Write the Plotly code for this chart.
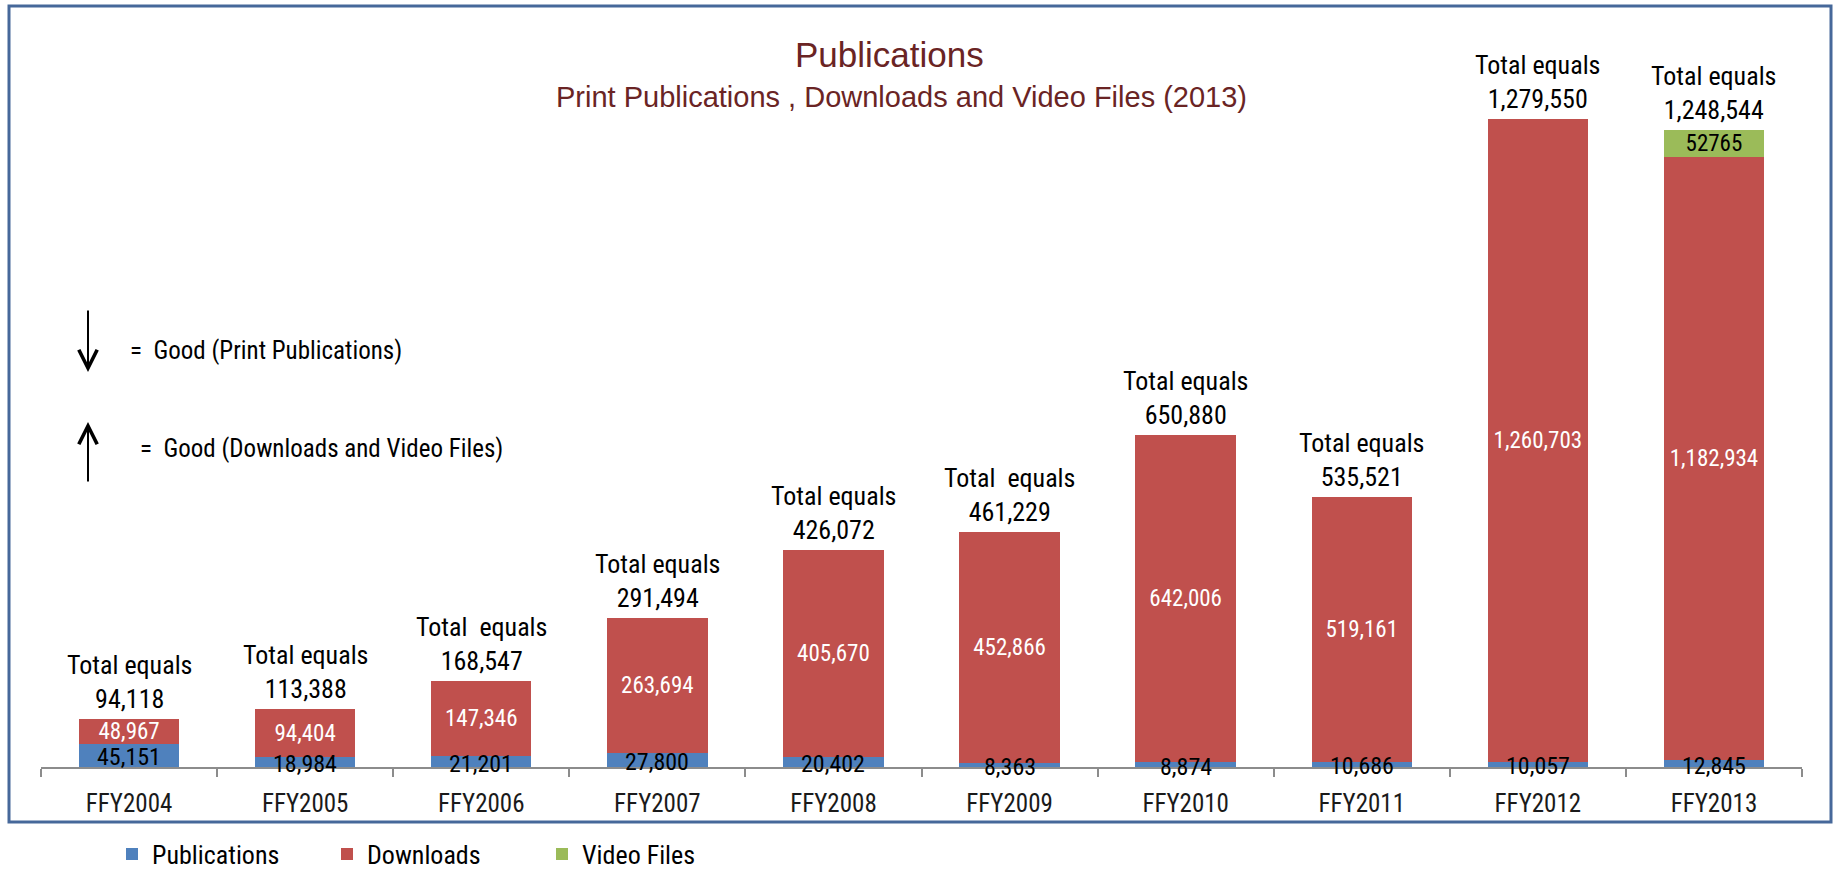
import plotly.graph_objects as go

categories = ["FFY2004", "FFY2005", "FFY2006", "FFY2007", "FFY2008",
              "FFY2009", "FFY2010", "FFY2011", "FFY2012", "FFY2013"]
publications = [45151, 18984, 21201, 27800, 20402, 8363, 8874, 10686, 10057, 12845]
downloads = [48967, 94404, 147346, 263694, 405670, 452866, 642006, 519161, 1260703, 1182934]
video_files = [None, None, None, None, None, None, None, None, None, 52765]
totals = [94118, 113388, 168547, 291494, 426072, 461229, 650880, 535521, 1279550, 1248544]
total_prefix = ["Total equals", "Total equals", "Total\u00a0 equals", "Total equals", "Total equals",
                "Total\u00a0 equals", "Total equals", "Total equals", "Total equals", "Total equals"]

W, H = 1837, 871
L, R, T, B = 41, 35, 30, 104
PW, PH = W - L - R, H - T - B

def px(x):
    return (x - L) / PW

def py(y):
    return (H - B - y) / PH

NARROW = "Liberation Sans Narrow, Arial Narrow, Roboto Condensed, sans-serif"
WIDE = "Liberation Sans, Arial, sans-serif"
TITLE_COLOR = "#6a2424"

fig = go.Figure()
fig.add_trace(go.Bar(
    x=categories, y=publications, name="Publications",
    marker=dict(color="#4f81bd", line=dict(width=0)),
))
fig.add_trace(go.Bar(
    x=categories, y=downloads, name="Downloads",
    marker=dict(color="#c0504d", line=dict(width=0)),
    texttemplate="%{y:,}", textposition="inside", insidetextanchor="middle",
    constraintext="none",
    insidetextfont=dict(family=NARROW, size=23, color="#ffffff"),
))
fig.add_trace(go.Bar(
    x=categories, y=video_files, name="Video Files",
    marker=dict(color="#9bbb59", line=dict(width=0)),
    texttemplate="%{y:.0f}", textposition="inside", insidetextanchor="middle",
    constraintext="none",
    insidetextfont=dict(family=NARROW, size=23, color="#000000"),
))

annotations = []
for i, c in enumerate(categories):
    top = publications[i] + downloads[i] + (video_files[i] or 0)
    annotations.append(dict(
        x=c, y=top, xref="x", yref="y", yanchor="bottom", yshift=3,
        text=f"{total_prefix[i]}<br>{totals[i]:,}", showarrow=False,
        font=dict(family=NARROW, size=26, color="#000000"),
    ))
    annotations.append(dict(
        x=c, y=publications[i] / 2, xref="x", yref="y", yanchor="middle", yshift=-2,
        text=f"{publications[i]:,}", showarrow=False, borderpad=0,
        font=dict(family=NARROW, size=24, color="#000000"),
    ))

annotations += [
    dict(x=px(889), y=py(55), xref="paper", yref="paper", text="Publications",
         showarrow=False, xanchor="center", yanchor="middle",
         font=dict(family=WIDE, size=35, color=TITLE_COLOR)),
    dict(x=px(901), y=py(97), xref="paper", yref="paper",
         text="Print Publications , Downloads and Video Files (2013)",
         showarrow=False, xanchor="center", yanchor="middle",
         font=dict(family=WIDE, size=29, color=TITLE_COLOR)),
    dict(x=px(88), y=py(372), xref="paper", yref="paper", text="", showarrow=True,
         ax=0, ay=-63, arrowhead=5, arrowwidth=2, arrowsize=1.8, arrowcolor="#000000",
         standoff=0),
    dict(x=px(88), y=py(422), xref="paper", yref="paper", text="", showarrow=True,
         ax=0, ay=61, arrowhead=5, arrowwidth=2, arrowsize=1.8, arrowcolor="#000000",
         standoff=0),
    dict(x=px(128), y=py(350), xref="paper", yref="paper",
         text="=\u00a0 Good (Print Publications)", showarrow=False,
         xanchor="left", yanchor="middle",
         font=dict(family=NARROW, size=25, color="#000000")),
    dict(x=px(138), y=py(448), xref="paper", yref="paper",
         text="=\u00a0 Good (Downloads and Video Files)", showarrow=False,
         xanchor="left", yanchor="middle",
         font=dict(family=NARROW, size=25, color="#000000")),
]

fig.update_layout(
    width=W, height=H, autosize=False,
    margin=dict(l=L, r=R, t=T, b=B, pad=0, autoexpand=False),
    paper_bgcolor="#ffffff", plot_bgcolor="#ffffff",
    barmode="stack", bargap=0.43,
    showlegend=True,
    legend=dict(orientation="h", x=px(112), y=py(854), xanchor="left", yanchor="middle",
                font=dict(family=NARROW, size=26, color="#000000"),
                entrywidth=170, entrywidthmode="pixels", traceorder="normal",
                bgcolor="rgba(0,0,0,0)"),
    annotations=annotations,
    hovermode=False,
    shapes=[dict(type="rect", xref="paper", yref="paper",
                 x0=px(9), x1=px(1831), y0=py(822), y1=py(6),
                 line=dict(color="#46689a", width=3), fillcolor="rgba(0,0,0,0)",
                 layer="below")],
)
fig.update_xaxes(
    type="category", showline=True, linecolor="#8c8c8c", linewidth=1.5,
    ticks="outside", tickson="boundaries", ticklen=8, tickcolor="#8c8c8c", tickwidth=1.5,
    showgrid=False, zeroline=False, ticklabelstandoff=13,
    tickfont=dict(family=NARROW, size=25, color="#1a1a1a"),
)
fig.update_yaxes(visible=False, range=[0, 1444500], showgrid=False, zeroline=False)

fig.write_html("out.html", config={"displayModeBar": False},
               post_script="document.body.style.margin='0';")
